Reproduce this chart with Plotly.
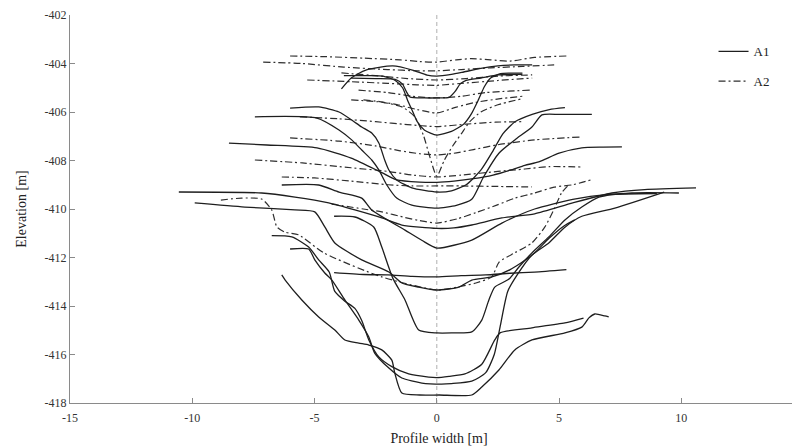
import plotly.graph_objects as go

# ---------------- data (profile width [m], elevation [m]) ----------------
# A1 profiles (solid)
a1_s1_x = [-3.9, -3.5, -2.9, -1.8, -1.0, -0.4, 0, 0.6, 1.1, 1.8, 2.5, 3.2, 3.9]
a1_s1_y = [-405.05, -404.6, -404.27, -404.1, -404.27, -404.48, -404.52, -404.45, -404.35, -404.2, -404.1, -404.06, -404.06]

a1_s2_x = [-3.5, -2.5, -1.7, -1.4, -1.25, -1.1, -0.5, 0, 0.5, 0.75, 0.95, 1.2, 1.8, 2.5, 3.5]
a1_s2_y = [-404.6, -404.62, -404.65, -404.85, -405.15, -405.38, -405.42, -405.42, -405.4, -405.15, -404.85, -404.7, -404.6, -404.47, -404.45]

a1_s3_x = [-3.8, -2.8, -2.2, -1.7, -1.4, -1.2, -1.0, -0.8, -0.5, 0, 0.6, 1.1, 1.4, 1.7, 1.95, 2.2, 2.6, 3.0, 3.5]
a1_s3_y = [-404.5, -404.5, -404.52, -404.7, -405.0, -405.5, -405.95, -406.4, -406.75, -406.95, -406.8, -406.5, -406.1, -405.5, -404.95, -404.6, -404.42, -404.4, -404.4]

a1_s4_x = [-8.5, -6.95, -4.9, -3.5, -2.25, -1.64, -0.7, 0, 0.7, 1.5, 2.3, 3.0, 3.6, 4.17, 5.0, 5.93, 6.8, 7.57]
a1_s4_y = [-407.28, -407.36, -407.48, -407.9, -408.5, -408.8, -408.89, -408.9, -408.85, -408.75, -408.6, -408.4, -408.2, -408.06, -407.7, -407.48, -407.45, -407.44]

a1_s5_x = [-6.0, -4.83, -4.0, -3.48, -3.07, -2.66, -2.37, -2.13, -1.96, -1.64, -1.02, 0, 0.6, 1.2, 1.8, 2.3, 2.7, 3.2, 3.9, 4.6, 5.24]
a1_s5_y = [-405.84, -405.79, -406.0, -406.33, -406.62, -406.87, -407.28, -407.98, -408.39, -408.8, -409.13, -409.3, -409.25, -409.0, -408.4, -407.6, -406.9, -406.4, -406.1, -405.9, -405.82]

a1_s6_x = [-7.44, -4.9, -4.0, -3.48, -3.07, -2.66, -2.37, -2.05, -1.64, -1.02, 0, 0.8, 1.43, 1.9, 2.54, 3.19, 3.89, 4.3, 5.0, 5.6, 6.34]
a1_s6_y = [-406.2, -406.25, -406.74, -407.15, -407.57, -407.98, -408.39, -409.0, -409.55, -409.84, -409.96, -409.85, -409.6, -408.7, -407.7, -407.15, -406.62, -406.12, -406.1, -406.1, -406.1]

a1_s7_x = [-10.55, -7.16, -5.8, -4.42, -3.35, -2.25, -1.43, 0, 0.7, 1.43, 2.66, 4.0, 5.56, 7.16, 8.5, 10.6]
a1_s7_y = [-409.3, -409.34, -409.51, -409.75, -410.04, -410.37, -410.66, -410.8, -410.78, -410.66, -410.37, -410.2, -409.75, -409.34, -409.2, -409.13]

a1_s8_x = [-6.34, -4.83, -4.0, -3.07, -2.66, -1.3, -0.6, 0, 1.43, 2.66, 4.0, 5.56, 7.0, 9.0]
a1_s8_y = [-409.01, -409.01, -409.3, -409.55, -410.04, -410.87, -411.3, -411.61, -411.28, -410.58, -410.0, -409.6, -409.4, -409.36]

a1_s9_x = [-4.2, -3.0, -2.0, -1.0, 0, 1.0, 2.0, 3.0, 4.0, 5.3]
a1_s9_y = [-412.62, -412.7, -412.72, -412.78, -412.8, -412.75, -412.72, -412.65, -412.6, -412.5]

a1_s10_x = [-9.9, -7.85, -5.8, -4.99, -4.58, -4.17, -3.07, -1.96, -1.43, -0.74, 0, 0.9, 1.43, 2.25, 3.0, 3.9, 4.6, 5.2, 5.64]
a1_s10_y = [-409.75, -409.92, -410.04, -410.12, -410.74, -411.4, -412.1, -412.6, -413.05, -413.22, -413.34, -413.22, -412.93, -412.8, -412.5, -411.9, -411.2, -410.7, -410.45]

a1_s11_x = [-4.2, -3.35, -2.58, -2.25, -1.8, -1.3, -0.74, 0, 0.6, 1.43, 1.84, 2.13, 2.37, 2.94, 3.35, 3.89, 4.58, 5.24, 5.93, 6.63, 7.98, 9.9]
a1_s11_y = [-410.3, -410.33, -410.74, -411.57, -412.85, -413.75, -414.99, -415.11, -415.11, -415.07, -414.58, -413.75, -413.22, -412.9, -412.4, -411.81, -411.15, -410.45, -409.92, -409.51, -409.34, -409.34]

a1_s12_x = [-6.75, -5.93, -5.24, -4.83, -4.4, -4.17, -3.76, -3.35, -3.07, -2.78, -2.37, -1.84, -1.15, -0.33, 0, 0.5, 1.15, 1.84, 2.37, 2.6, 3.89, 5.24, 6.0]
a1_s12_y = [-411.1, -411.15, -411.57, -412.1, -412.6, -413.4, -413.8, -414.1, -414.6, -415.4, -416.1, -416.5, -416.8, -416.93, -416.95, -416.9, -416.8, -416.4, -415.4, -415.1, -414.9, -414.7, -414.5]

a1_s13_x = [-6.0, -5.24, -4.99, -4.58, -4.29, -3.76, -3.19, -2.78, -2.54, -1.96, -1.43, -0.61, 0.2, 0.6, 1.43, 2.0, 2.35, 2.6, 2.9, 3.3, 3.89, 4.58, 5.24, 5.93, 7.28, 9.3]
a1_s13_y = [-411.65, -411.65, -412.1, -412.64, -412.93, -413.75, -414.58, -415.28, -415.94, -416.56, -416.97, -417.18, -417.22, -417.2, -417.1, -416.75, -416.0, -414.8, -413.4, -412.7, -411.9, -411.4, -410.75, -410.3, -409.96, -409.3]

a1_s14_x = [-6.34, -6.2, -5.52, -4.83, -4.17, -3.76, -3.19, -2.78, -2.25, -1.84, -1.72, -1.43, -0.7, 0.1, 1.43, 1.84, 2.54, 3.19, 3.89, 5.24, 5.93, 6.22, 6.46, 6.87, 7.03]
a1_s14_y = [-412.72, -412.93, -413.75, -414.45, -414.99, -415.4, -415.53, -415.61, -415.81, -416.23, -416.76, -417.59, -417.67, -417.67, -417.67, -417.34, -416.64, -415.81, -415.4, -415.11, -414.87, -414.49, -414.33, -414.41, -414.45]

# A2 profiles (dash-dot)
a2_d1_x = [-6.0, -4.5, -3.0, -1.5, -0.7, 0, 0.8, 1.4, 2.2, 3.0, 4.0, 5.3]
a2_d1_y = [-403.69, -403.72, -403.78, -403.85, -403.92, -403.94, -403.85, -403.8, -403.85, -403.9, -403.75, -403.69]

a2_d2_x = [-7.1, -5.5, -3.8, -2.0, -0.8, 0, 1.0, 2.2, 3.5, 4.8]
a2_d2_y = [-403.94, -404.0, -404.15, -404.25, -404.3, -404.3, -404.25, -404.18, -404.12, -404.06]

a2_d3_x = [-3.9, -2.5, -1.2, 0, 1.2, 2.5, 3.9]
a2_d3_y = [-404.39, -404.5, -404.62, -404.68, -404.62, -404.52, -404.47]

a2_d4_x = [-5.3, -3.5, -2.0, -0.8, 0, 1.0, 2.5, 3.9]
a2_d4_y = [-404.68, -404.75, -404.82, -404.88, -404.9, -404.82, -404.7, -404.6]

a2_d5_x = [-3.2, -2.0, -1.0, 0, 1.0, 2.0, 3.8]
a2_d5_y = [-405.1, -405.2, -405.35, -405.42, -405.35, -405.2, -405.1]

a2_d6_x = [-3.0, -2.5, -1.6, -0.8, 0, 0.8, 1.6, 2.6, 3.5]
a2_d6_y = [-405.5, -405.55, -405.7, -405.9, -406.04, -405.8, -405.6, -405.45, -405.35]

a2_d7_x = [-3.5, -2.2, -1.4, -0.9, -0.55, -0.3, 0, 0.3, 0.65, 1.0, 1.35, 1.8, 2.5, 3.5]
a2_d7_y = [-405.5, -405.6, -405.8, -406.2, -406.95, -407.8, -408.65, -408.0, -407.4, -406.9, -406.4, -406.0, -405.7, -405.45]

a2_d8_x = [-5.6, -4.0, -2.5, -1.2, 0, 1.2, 2.4, 3.5]
a2_d8_y = [-406.2, -406.28, -406.4, -406.52, -406.6, -406.5, -406.42, -406.4]

a2_d9_x = [-6.0, -4.0, -2.5, -1.5, -0.7, 0, 0.7, 1.5, 2.5, 4.0, 5.9]
a2_d9_y = [-407.07, -407.2, -407.4, -407.6, -407.72, -407.77, -407.7, -407.55, -407.35, -407.15, -407.03]

a2_d10_x = [-7.44, -5.5, -3.5, -2.0, -1.0, 0, 1.0, 2.5, 3.6, 4.6, 5.93]
a2_d10_y = [-407.98, -408.1, -408.3, -408.45, -408.6, -408.68, -408.6, -408.45, -408.35, -408.25, -408.27]

a2_d11_x = [-6.34, -5.0, -3.5, -2.0, -1.0, 0, 1.0, 2.5, 3.89]
a2_d11_y = [-408.68, -408.72, -408.85, -409.0, -409.05, -409.05, -409.05, -409.07, -409.09]

a2_d12_x = [-4.3, -3.0, -2.25, -1.3, -0.7, 0, 0.86, 1.6, 2.45, 3.2, 4.0, 4.8, 5.56, 6.3]
a2_d12_y = [-409.8, -410.0, -410.12, -410.35, -410.48, -410.58, -410.4, -410.15, -409.84, -409.55, -409.34, -409.1, -409.0, -408.8]

a2_d13_x = [-8.83, -7.98, -7.16, -6.75, -6.54, -6.22, -5.64, -4.62, -2.25, 0, 0.86, 1.6, 2.25, 2.54, 3.2, 3.89, 4.42, 4.8, 5.1, 5.4]
a2_d13_y = [-409.63, -409.55, -409.59, -410.04, -410.74, -410.95, -411.07, -411.81, -412.8, -413.34, -413.22, -413.05, -412.8, -412.2, -411.8, -411.4, -410.74, -410.0, -409.34, -409.0]

a1_profiles = [
    (a1_s1_x, a1_s1_y), (a1_s2_x, a1_s2_y), (a1_s3_x, a1_s3_y), (a1_s4_x, a1_s4_y),
    (a1_s5_x, a1_s5_y), (a1_s6_x, a1_s6_y), (a1_s7_x, a1_s7_y), (a1_s8_x, a1_s8_y),
    (a1_s9_x, a1_s9_y), (a1_s10_x, a1_s10_y), (a1_s11_x, a1_s11_y), (a1_s12_x, a1_s12_y),
    (a1_s13_x, a1_s13_y), (a1_s14_x, a1_s14_y),
]
a2_profiles = [
    (a2_d1_x, a2_d1_y), (a2_d2_x, a2_d2_y), (a2_d3_x, a2_d3_y), (a2_d4_x, a2_d4_y),
    (a2_d5_x, a2_d5_y), (a2_d6_x, a2_d6_y), (a2_d7_x, a2_d7_y), (a2_d8_x, a2_d8_y),
    (a2_d9_x, a2_d9_y), (a2_d10_x, a2_d10_y), (a2_d11_x, a2_d11_y), (a2_d12_x, a2_d12_y),
    (a2_d13_x, a2_d13_y),
]

centre_x = [0, 0]
centre_y = [-402.0, -418.0]

x_ticks = [-15, -10, -5, 0, 5, 10, 15]
y_ticks = [-402, -404, -406, -408, -410, -412, -414, -416, -418]

series_names = ["A1", "A2"]

# ---------------- figure ----------------
SERIF = "Liberation Serif, Times New Roman, serif"
fig = go.Figure()

fig.add_trace(go.Scatter(x=centre_x, y=centre_y, mode="lines",
                         line=dict(color="#b0b0b0", width=1, dash="4px,3px"),
                         showlegend=False, hoverinfo="skip"))

for i, (xs, ys) in enumerate(a2_profiles):
    fig.add_trace(go.Scatter(
        x=xs, y=ys, mode="lines",
        line=dict(color="#2e2e2e", width=1.2, dash="7px,3px,2px,3px", shape="spline", smoothing=0.6),
        name=series_names[1], legendgroup="A2", showlegend=(i == 0), legendrank=2))

for i, (xs, ys) in enumerate(a1_profiles):
    fig.add_trace(go.Scatter(
        x=xs, y=ys, mode="lines",
        line=dict(color="#1e1e1e", width=1.3, shape="spline", smoothing=0.6),
        name=series_names[0], legendgroup="A1", showlegend=(i == 0), legendrank=1))

axis_common = dict(
    showgrid=False, zeroline=False, showline=True, linecolor="#8a8a8a", linewidth=1,
    ticks="inside", ticklen=5, tickcolor="#8a8a8a", mirror=False, automargin=False,
    tickfont=dict(family=SERIF, size=12, color="#333333"),
)

fig.update_layout(
    width=800, height=448,
    margin=dict(l=62, r=0, t=7, b=53),
    paper_bgcolor="white", plot_bgcolor="white",
    xaxis=dict(range=[-15, 15.18], tickvals=x_ticks, ticktext=[str(v) for v in x_ticks],
               ticklabelstandoff=4,
               title=dict(text="Profile width [m]", font=dict(family=SERIF, size=14, color="#222"), standoff=8),
               **axis_common),
    yaxis=dict(range=[-418, -402], tickvals=y_ticks, ticktext=[str(v) for v in y_ticks],
               title=dict(text="Elevation [m]", font=dict(family=SERIF, size=14, color="#222"), standoff=14),
               **axis_common),
    legend=dict(x=0.872, y=0.945, xanchor="left", yanchor="top", bgcolor="rgba(0,0,0,0)",
                font=dict(family=SERIF, size=13, color="#222"), tracegroupgap=10, itemwidth=30),
    showlegend=True,
)

fig.write_html("out.html")
